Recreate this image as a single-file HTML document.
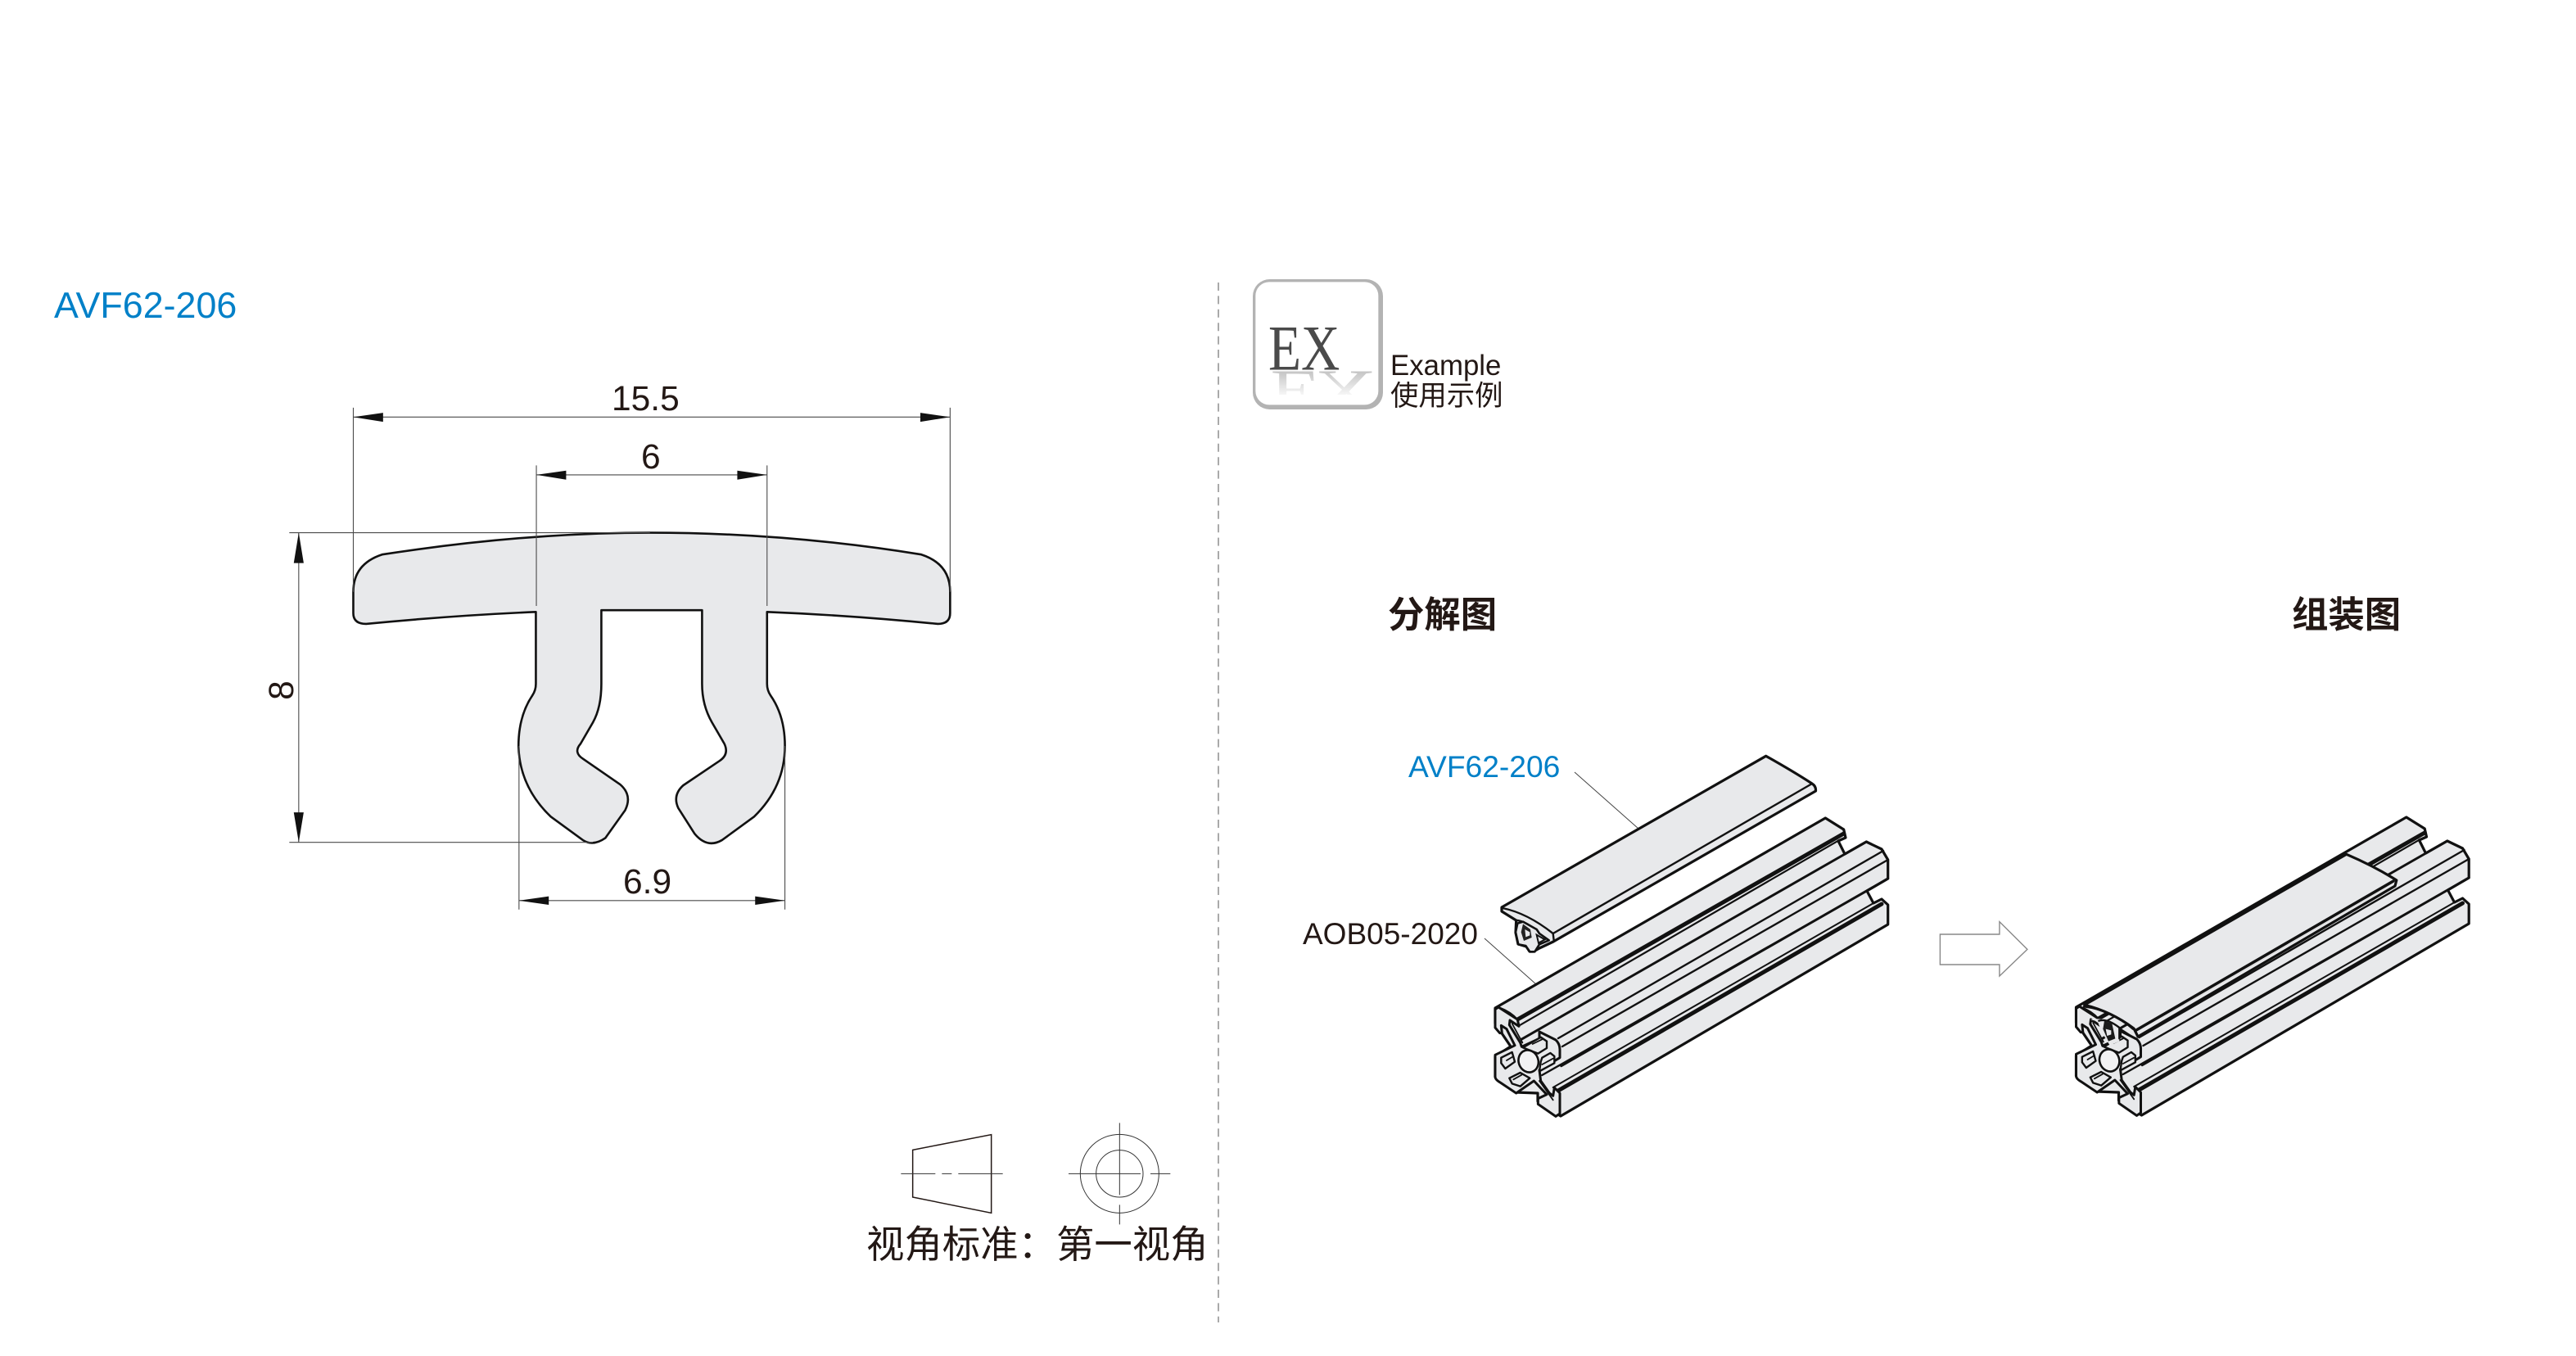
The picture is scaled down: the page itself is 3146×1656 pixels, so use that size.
<!DOCTYPE html>
<html><head><meta charset="utf-8">
<style>
html,body{margin:0;padding:0;background:#fff;width:3146px;height:1656px;overflow:hidden}
svg{display:block}
.z *{vector-effect:non-scaling-stroke}
text{font-family:"Liberation Sans","Noto Sans CJK SC",sans-serif;fill:#231815}
.l{fill:none;stroke:#111;stroke-linecap:round;stroke-linejoin:round}
</style></head><body>
<svg width="3146" height="1656" viewBox="0 0 3146 1656" xmlns="http://www.w3.org/2000/svg">
<defs>
<linearGradient id="fade" gradientUnits="userSpaceOnUse" x1="0" y1="0" x2="0" y2="-120"><stop offset="0" stop-color="#c4c4c4"/><stop offset="1" stop-color="#fff"/></linearGradient>
<clipPath id="rc"><rect x="160" y="398" width="450" height="88"/></clipPath>

<g id="pf">
 <path d="M1826,1231 L2229.3,999 L2251.7,1013 L2254,1023 L2245,1027 L2253,1043 L2279.3,1028 L2298,1037 L2305.7,1050 L2305.7,1073 L2280,1088 L2288,1103 L2298,1098 L2305.7,1105 L2305.7,1129 L1906,1363 L1878,1345 L1878,1335 L1851,1334 L1826,1315 L1826,1290 L1845,1278 L1826,1250 Z" fill="#e8e9eb" stroke="#111" stroke-width="3.2" stroke-linejoin="round"/>
 <path class="l" stroke-width="5" d="M1853.3,1245 L2251.7,1018"/>
 <path class="l" stroke-width="2.2" d="M1856.7,1251.7 L2245,1026.7"/>
 <path class="l" stroke-width="3" d="M1858,1269.3 L2279.3,1028"/>
 <path class="l" stroke-width="2.4" d="M1903,1268 L2300,1039"/>
 <path class="l" stroke-width="2.4" d="M1908,1278 L2305.7,1050"/>
 <path class="l" stroke-width="3" d="M1906.7,1301.7 L2305.7,1073"/>
 <path class="l" stroke-width="2.4" d="M1883.3,1313 L2280,1088"/>
 <path class="l" stroke-width="2" d="M1896.7,1328 L2288,1103"/>
 <path class="l" stroke-width="5" d="M1901.7,1332.7 L2298,1104"/>
 <path class="l" stroke-width="2.4" d="M1832,1231 Q1845,1236 1853,1245"/>
 <g transform="translate(1815,1220) scale(.33333)" class="z">
  <path fill="#e8e9eb" stroke="#111" stroke-width="3" stroke-linejoin="round" d="M33,38 L45,30 L115,75 L120,100 L87,78 L85,95 L125,160 L130,175 L195,145 L195,120 L255,150 Q270,165 270,185 L270,215 L195,260 L200,300 L232,345 L245,355 L250,325 L270,345 L270,420 L255,430 L190,385 L190,365 L222,350 L175,300 L110,345 L50,305 Q33,295 33,285 L33,205 L105,170 L75,110 L55,97 L58,125 L50,125 L33,105 Z"/>
  <path fill="#e8e9eb" stroke="#111" stroke-width="2.4" stroke-linejoin="round" d="M135,178 L200,140 L222,155 L222,180 L190,200 L165,190 Z"/>
  <path fill="#e8e9eb" stroke="#111" stroke-width="2.4" stroke-linejoin="round" d="M205,215 L235,198 L250,210 L250,235 L195,265 L200,230 Z"/>
  <path fill="#e8e9eb" stroke="#111" stroke-width="2.4" stroke-linejoin="round" d="M55,215 L95,195 L105,230 L70,255 L55,235 Z"/>
  <path fill="#e8e9eb" stroke="#111" stroke-width="2.4" stroke-linejoin="round" d="M85,290 L125,270 L160,290 L125,320 L95,310 Z"/>
  <ellipse cx="155" cy="228" rx="36" ry="41" transform="rotate(-20 155 228)" fill="#f2f2f3" stroke="#111" stroke-width="2.6"/>
  <path class="l" stroke-width="1.8" d="M95,90 L133,160 M195,300 L245,370 M170,165 L205,148 M205,240 L245,218 M75,225 L100,210 M100,295 L130,278"/>
 </g>
</g>
</defs>

<!-- Left title -->
<text x="66" y="388" font-size="44.8" style="fill:#0080c8">AVF62-206</text>

<!-- T profile with dims -->
<g class="z" transform="translate(300,320) scale(.60588,.52301)">
 <path fill="#e8e9eb" stroke="#111" stroke-width="2.6" stroke-linejoin="round" d="M815,632 Q560,632 275,683 Q217,705 217,770 L217,820 Q217,845 243,845 Q420,825 585,817 L585,985 Q585,1000 578,1012 Q550,1060 550,1130 Q552,1225 615,1295 L680,1350 Q700,1365 725,1345 L765,1280 Q780,1245 755,1220 L680,1160 Q660,1145 675,1125 L700,1075 Q717,1040 717,985 L717,813 L920,813 L920,985 Q920,1035 940,1075 L965,1125 Q975,1150 955,1165 L882,1222 Q860,1245 872,1275 L905,1335 Q930,1370 960,1350 L1025,1295 Q1087,1225 1087,1130 Q1087,1060 1058,1012 Q1051,1000 1051,985 L1051,817 Q1220,825 1395,845 Q1420,845 1420,820 L1420,770 Q1420,705 1362,683 Q1090,632 815,632 Z"/>
 <g stroke="#4a4a4a" stroke-width="1.1" fill="none">
  <path d="M217,340 V770 M1420,340 V770 M217,362 H1420"/>
  <path d="M586,475 V803 M1051,475 V803 M586,497 H1051"/>
  <path d="M88,632 H815 M88,1355 H700 M107,632 V1355"/>
  <path d="M551,1130 V1512 M1087,1130 V1512 M551,1491 H1087"/>
 </g>
 <g fill="#111">
  <polygon points="217,362 277,352 277,373"/><polygon points="1420,362 1360,352 1360,373"/>
  <polygon points="586,497 646,487 646,508"/><polygon points="1051,497 991,487 991,508"/>
  <polygon points="107,632 97,703 117,703"/><polygon points="107,1355 97,1285 117,1285"/>
  <polygon points="551,1491 611,1481 611,1501"/><polygon points="1087,1491 1027,1481 1027,1501"/>
 </g>
</g>
<text x="747" y="501" font-size="42.5">15.5</text>
<text x="783" y="572" font-size="42.5">6</text>
<text x="761" y="1091" font-size="42.5">6.9</text>
<text transform="translate(358,843) rotate(-90)" text-anchor="middle" font-size="42.5">8</text>

<!-- View symbol -->
<g class="z" transform="translate(1040,1340) scale(.33333)" fill="none">
 <polygon points="224,193 512,137 512,424 224,366" stroke="#231815" stroke-width="1.5"/>
 <path d="M181,280 H554" stroke="#333" stroke-width="1" stroke-dasharray="42 8 12 8 120 8 12 8"/>
 <circle cx="982" cy="280" r="144" stroke="#333" stroke-width="1"/>
 <circle cx="982" cy="280" r="86" stroke="#333" stroke-width="1"/>
 <path d="M795,280 H1168 M982,94 V466" stroke="#333" stroke-width="1" stroke-dasharray="88 12 60 12 60 12 60 12"/>
</g>
<text x="1058" y="1536" font-size="46.4">视角标准：第一视角</text>

<!-- Divider -->
<path d="M1488,345 V1615" stroke="#aaa" stroke-width="2" stroke-dasharray="10 6.4" fill="none"/>

<!-- EX badge -->
<g transform="translate(1480,320) scale(.33333)">
 <rect x="150" y="63" width="477" height="477" rx="62" fill="#b3b3b3"/>
 <rect x="160" y="73" width="450" height="450" rx="50" fill="#fff"/>
 <g clip-path="url(#rc)"><text transform="translate(215,400) scale(1.42,-.85)" font-size="236" textLength="265" lengthAdjust="spacingAndGlyphs" style="font-family:'Liberation Serif',serif;fill:url(#fade)">EX</text></g>
 <text x="207" y="395" font-size="236" textLength="262" lengthAdjust="spacingAndGlyphs" style="font-family:'Liberation Serif',serif;fill:#4a4a4a">EX</text>
</g>
<text x="1698" y="458" font-size="34.8">Example</text>
<text x="1698" y="495" font-size="34.4">使用示例</text>

<!-- Headings -->
<text x="1695" y="766" font-size="44.4" font-weight="700">分解图</text>
<text x="2799" y="766" font-size="44.4" font-weight="700">组装图</text>

<!-- Labels -->
<text x="1720" y="949" font-size="37.2" style="fill:#0080c8">AVF62-206</text>
<text x="1591" y="1153" font-size="37">AOB05-2020</text>
<path d="M1923,943 L2001,1012 M1813,1146 L1876,1202" stroke="#444" stroke-width="1" fill="none"/>

<!-- Exploded: profile -->
<use href="#pf"/>

<!-- Exploded: cover strip -->
<path d="M1834,1108 L2156.7,923.3 Q2190,942 2213,957 Q2218,960 2217.5,966 L1897,1150 L1880,1158 L1873,1162 L1868,1162 L1864,1156 L1854,1153 L1851,1139 L1851.7,1124 L1834,1113 Z" fill="#e8e9eb" stroke="#111" stroke-width="3.2" stroke-linejoin="round"/>
<path class="l" stroke-width="2.4" d="M2213,957 L1896.7,1140"/>
<g transform="translate(1825,1085) scale(.33333)" class="z">
 <path class="l" stroke-width="2.4" d="M30,72 Q120,90 215,165 L218,190"/>
 <path class="l" stroke-width="2.4" d="M78,116 Q120,120 165,165"/>
 <path d="M85,128 L78,160 L88,205 L115,210 L130,232 L148,232 L165,205 L200,190 L165,165 L155,150 L105,122 Z" fill="#e8e9eb" stroke="#111" stroke-width="2.6" stroke-linejoin="round"/>
 <path d="M105,130 L132,150 L137,180 L108,192 L98,160 Z" fill="#222"/>
 <path d="M112,150 L130,160 L130,172 L115,178 Z" fill="#e8e9eb"/>
 <path d="M155,170 L185,187 L162,200 Z" fill="#e8e9eb" stroke="#111" stroke-width="2"/>
</g>

<!-- Arrow -->
<g class="z" transform="translate(2340,980) scale(.45914,.33333)">
 <polygon points="64,483 222,483 222,437 296,538 222,636 222,594 64,594" fill="#fff" stroke="#888" stroke-width="1.4"/>
</g>

<!-- Assembled -->
<use href="#pf" transform="translate(709.5,-1)"/>
<path d="M2545.7,1227.3 L2865.7,1043.3 Q2900,1058 2926.8,1075 L2925,1082 L2611,1266 L2606,1256 Q2578,1235 2545.7,1227.3 Z" fill="#e8e9eb" stroke="#111" stroke-width="3.2" stroke-linejoin="round"/>
<path class="l" stroke-width="3.5" d="M2609,1258 L2923,1076"/>
<path d="M2640,1243 L2915,1084" stroke="#ddd" stroke-width="1" fill="none"/>
<g transform="translate(2520,1200) scale(.33333)" class="z">
 <path d="M98,135 Q160,125 205,168 L205,215 L170,230 L140,180 L125,142 Z" fill="#e8e9eb"/>
 <path class="l" stroke-width="2.4" d="M75,88 Q175,100 255,170 M130,140 Q160,130 205,165 M205,165 L205,205 M205,168 L262,205"/>
 <path d="M150,140 L178,150 L190,205 L165,215 L145,170 Z" fill="#1a1a1a"/>
 <path d="M155,170 L175,175 L175,190 L160,195 Z" fill="#e8e9eb"/>
</g>
</svg>
</body></html>
